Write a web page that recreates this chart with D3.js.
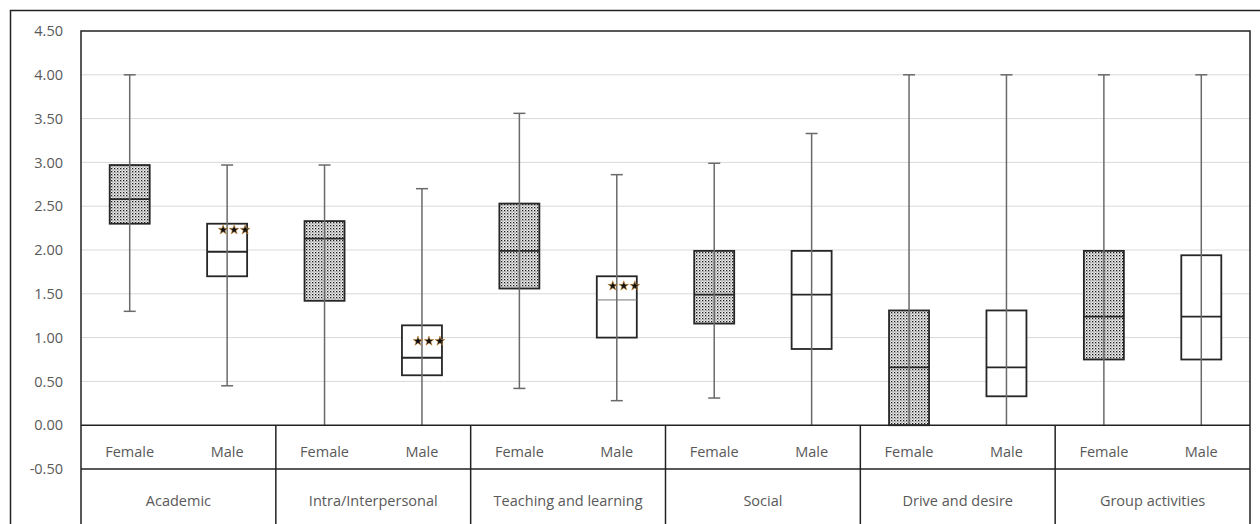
<!DOCTYPE html>
<html><head><meta charset="utf-8">
<script src="https://cdn.jsdelivr.net/npm/d3@7/dist/d3.min.js"></script>
<style>body{margin:0;background:#fff}svg{display:block}text{font-family:"Open Sans","Noto Sans",sans-serif}</style>
</head><body><svg id="c" width="1260" height="524"></svg>
<script>
const categories = ["Academic","Intra/Interpersonal","Teaching and learning","Social","Drive and desire","Group activities"];
const groups = ["Female","Male"];
// order: for each category, Female then Male
const mins    = [1.30,0.45, 0.00,0.00, 0.42,0.28, 0.31,0.00, 0.00,0.00, 0.00,0.00];
const q1s     = [2.30,1.70, 1.42,0.57, 1.56,1.00, 1.16,0.87, 0.00,0.33, 0.75,0.75];
const medians = [2.58,1.98, 2.13,0.77, 1.99,1.43, 1.49,1.49, 0.66,0.66, 1.24,1.24];
const q3s     = [2.97,2.30, 2.33,1.14, 2.53,1.70, 1.99,1.99, 1.31,1.31, 1.99,1.94];
const maxs    = [4.00,2.97, 2.97,2.70, 3.56,2.86, 2.99,3.33, 4.00,4.00, 4.00,4.00];
const sigLevels = [null,2.23, null,0.96, null,1.59, null,null, null,null, null,null];
const yTicks = [-0.5,0,0.5,1,1.5,2,2.5,3,3.5,4,4.5];

const svg = d3.select("#c");
const L=81,R=1250,T=31;
const y = d3.scaleLinear().domain([-0.5,4.5]).range([469,31]);
const x0 = d3.scaleBand().domain(categories).range([L,R]);
const x1 = d3.scaleBand().domain(groups).range([0,x0.bandwidth()]);
const boxW = 40, capW = 12;

const defs = svg.append("defs");
const pat = defs.append("pattern").attr("id","dots").attr("patternUnits","userSpaceOnUse").attr("width",3).attr("height",3);
pat.append("rect").attr("width",3).attr("height",3).attr("fill","#eeeeee");
pat.append("rect").attr("x",0).attr("y",0).attr("width",1.3).attr("height",1.3).attr("fill","#1a1a1a");
pat.append("rect").attr("x",1.5).attr("y",1.5).attr("width",1).attr("height",1).attr("fill","#444");

// outer border
svg.append("path").attr("d","M10.5,524 V10.5 H1260").attr("fill","none").attr("stroke","#222").attr("stroke-width",1.5);

// gridlines
svg.append("g").selectAll("line").data(yTicks.filter(v=>v>0 && v<4.5)).join("line")
  .attr("x1",L).attr("x2",R).attr("y1",d=>y(d)).attr("y2",d=>y(d))
  .attr("stroke","#d9d9d9").attr("stroke-width",1);

// y axis labels
const fmt = d3.format(".2f");
const ax = svg.append("g").attr("transform",`translate(${L},0)`)
  .call(d3.axisLeft(y).tickValues(yTicks).tickFormat(d=>fmt(d).replace("\u2212","-")).tickSize(0).tickPadding(18));
ax.select(".domain").remove();
ax.selectAll("text").attr("font-size",14.5).attr("fill","#595959").attr("font-family","'Open Sans',sans-serif");

// data rows
const rows = [];
categories.forEach((c,i)=>groups.forEach((g,j)=>{
  const k=i*2+j;
  rows.push({c,g,min:mins[k],q1:q1s[k],med:medians[k],q3:q3s[k],max:maxs[k],sig:sigLevels[k]});
}));
const cx = d => x0(d.c)+x1(d.g)+x1.bandwidth()/2;

const gb = svg.append("g");
gb.selectAll("rect.box").data(rows).join("rect").attr("class","box")
  .attr("x",d=>cx(d)-boxW/2).attr("width",boxW)
  .attr("y",d=>y(d.q3)).attr("height",d=>y(d.q1)-y(d.q3))
  .attr("fill",d=>d.g==="Female"?"url(#dots)":"#fff")
  .attr("stroke","#262626").attr("stroke-width",1.8);
gb.selectAll("line.med").data(rows).join("line").attr("class","med")
  .attr("x1",d=>cx(d)-boxW/2).attr("x2",d=>cx(d)+boxW/2)
  .attr("y1",d=>y(d.med)).attr("y2",d=>y(d.med))
  .attr("stroke",d=>d.c==="Teaching and learning"&&d.g==="Male"?"#777":"#262626").attr("stroke-width",d=>d.c==="Teaching and learning"&&d.g==="Male"?1:1.8);
// whiskers
gb.selectAll("line.wh").data(rows).join("line").attr("class","wh")
  .attr("x1",cx).attr("x2",cx).attr("y1",d=>y(d.min)).attr("y2",d=>y(d.max))
  .attr("stroke","#6a6a6a").attr("stroke-width",1.5);
gb.selectAll("line.capT").data(rows).join("line").attr("class","capT")
  .attr("x1",d=>cx(d)-capW/2).attr("x2",d=>cx(d)+capW/2).attr("y1",d=>y(d.max)).attr("y2",d=>y(d.max))
  .attr("stroke","#6a6a6a").attr("stroke-width",1.5);
gb.selectAll("line.capB").data(rows.filter(d=>d.min>0)).join("line").attr("class","capB")
  .attr("x1",d=>cx(d)-capW/2).attr("x2",d=>cx(d)+capW/2).attr("y1",d=>y(d.min)).attr("y2",d=>y(d.min))
  .attr("stroke","#6a6a6a").attr("stroke-width",1.5);

// significance stars
const star = d3.symbol().type(d3.symbolStar).size(30);
const sigRows = rows.filter(d=>d.sig!=null);
sigRows.forEach(d=>{
  [-4,7,18].forEach(o=>{
    svg.append("path").attr("d",star()).attr("transform",`translate(${cx(d)+o},${y(d.sig)})`)
      .attr("fill","#111").attr("stroke","#d09040").attr("stroke-width",0.6);
  });
});

// plot frame + table lines
const fr = svg.append("g").attr("stroke","#222").attr("stroke-width",1.5).attr("fill","none");
fr.append("path").attr("d",`M${L},524 V${T} H${R} V524`);
fr.append("line").attr("x1",L).attr("x2",R).attr("y1",y(0)).attr("y2",y(0));
fr.append("line").attr("x1",L).attr("x2",R).attr("y1",469).attr("y2",469);
fr.selectAll("line.div").data(categories.slice(1)).join("line").attr("class","div")
  .attr("x1",d=>x0(d)).attr("x2",d=>x0(d)).attr("y1",y(0)).attr("y2",524);

// labels
svg.append("g").selectAll("text").data(rows).join("text")
  .attr("x",cx).attr("y",457).attr("text-anchor","middle").attr("font-size",14.5).attr("fill","#595959").text(d=>d.g);
svg.append("g").selectAll("text").data(categories).join("text")
  .attr("x",d=>x0(d)+x0.bandwidth()/2).attr("y",506).attr("text-anchor","middle").attr("font-size",14.5).attr("fill","#595959").text(d=>d);
</script></body></html>
